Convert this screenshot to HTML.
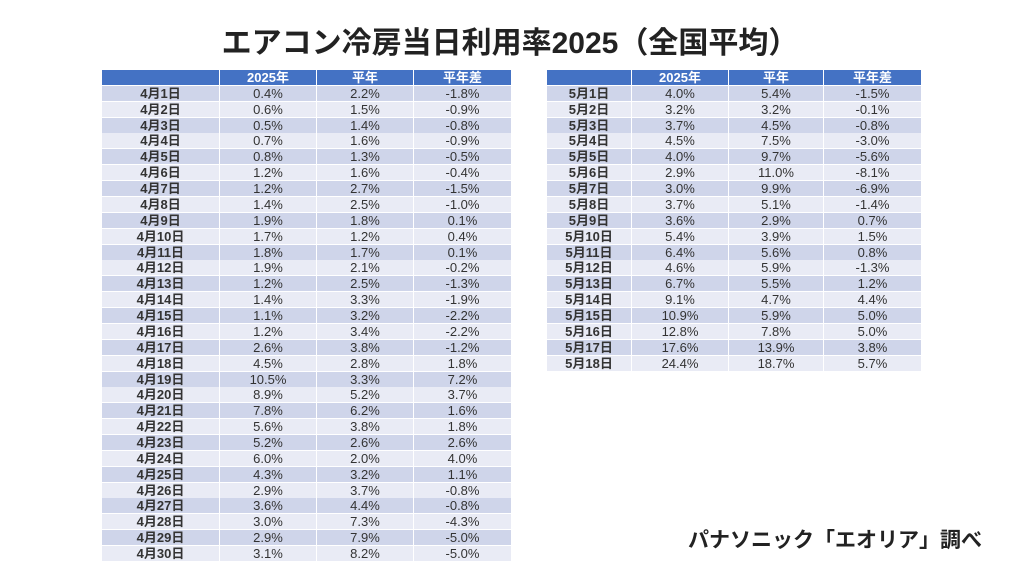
<!DOCTYPE html>
<html><head><meta charset="utf-8"><style>
body{margin:0;width:1024px;height:576px;background:#fff;position:relative;overflow:hidden;font-family:"Liberation Sans","Noto Sans CJK JP",sans-serif;}
#title{position:absolute;left:0;width:1024px;top:26px;text-align:center;font-size:30px;line-height:36px;font-weight:bold;color:#222;transform:translateX(-2px)}
.tbl{position:absolute}
.row{position:absolute;left:0;height:15px;display:flex}
.cell{height:15px;line-height:15px;text-align:center;font-size:13px;color:#333;border-right:1px solid #fff;box-sizing:border-box;white-space:nowrap;overflow:hidden}
.hdr .cell{background:#4472C4;color:#fff;font-weight:bold}
.o .cell{background:#CFD5EA}.e .cell{background:#E9EBF5}
.cell.first{font-weight:bold}
#src{position:absolute;left:688px;top:524px;font-size:21px;font-weight:bold;color:#222;white-space:nowrap}
</style></head><body>
<div id="title">エアコン冷房当日利用率2025（全国平均）</div>
<div id="t1" class="tbl" style="left:102px;top:70px"></div>
<div id="t2" class="tbl" style="left:547px;top:70px"></div>
<div id="src">パナソニック「エオリア」調べ</div>
<script>
const headers=["","2025年","平年","平年差"];
const aprY25=[0.4,0.6,0.5,0.7,0.8,1.2,1.2,1.4,1.9,1.7,1.8,1.9,1.2,1.4,1.1,1.2,2.6,4.5,10.5,8.9,7.8,5.6,5.2,6.0,4.3,2.9,3.6,3.0,2.9,3.1];
const aprAvg=[2.2,1.5,1.4,1.6,1.3,1.6,2.7,2.5,1.8,1.2,1.7,2.1,2.5,3.3,3.2,3.4,3.8,2.8,3.3,5.2,6.2,3.8,2.6,2.0,3.2,3.7,4.4,7.3,7.9,8.2];
const aprDiff=[-1.8,-0.9,-0.8,-0.9,-0.5,-0.4,-1.5,-1.0,0.1,0.4,0.1,-0.2,-1.3,-1.9,-2.2,-2.2,-1.2,1.8,7.2,3.7,1.6,1.8,2.6,4.0,1.1,-0.8,-0.8,-4.3,-5.0,-5.0];
const mayY25=[4.0,3.2,3.7,4.5,4.0,2.9,3.0,3.7,3.6,5.4,6.4,4.6,6.7,9.1,10.9,12.8,17.6,24.4];
const mayAvg=[5.4,3.2,4.5,7.5,9.7,11.0,9.9,5.1,2.9,3.9,5.6,5.9,5.5,4.7,5.9,7.8,13.9,18.7];
const mayDiff=[-1.5,-0.1,-0.8,-3.0,-5.6,-8.1,-6.9,-1.4,0.7,1.5,0.8,-1.3,1.2,4.4,5.0,5.0,3.8,5.7];
const ROWH=15.87;
function mkRow(t,cls,texts,widths,top){
  const r=document.createElement('div');
  r.className='row '+cls;
  r.style.top=top+'px';
  texts.forEach((s,j)=>{
    const c=document.createElement('div');
    c.className='cell'+(j===0?' first':'');
    c.style.width=widths[j]+'px';
    c.textContent=s;
    r.appendChild(c);
  });
  t.appendChild(r);
  return r;
}
function build(id,month,a,b,c,widths){
  const t=document.getElementById(id);
  const hr=mkRow(t,'hdr',headers,widths,0);
  
  
  a.forEach((v,i)=>{
    const r=mkRow(t,i%2?'e':'o',[month+'月'+(i+1)+'日',v.toFixed(1)+'%',b[i].toFixed(1)+'%',c[i].toFixed(1)+'%'],widths,Math.round(ROWH*(i+1)));
    
    
  });
}
build('t1',4,aprY25,aprAvg,aprDiff,[118,97,97,98]);
build('t2',5,mayY25,mayAvg,mayDiff,[85,97,95,98]);
</script>
</body></html>
